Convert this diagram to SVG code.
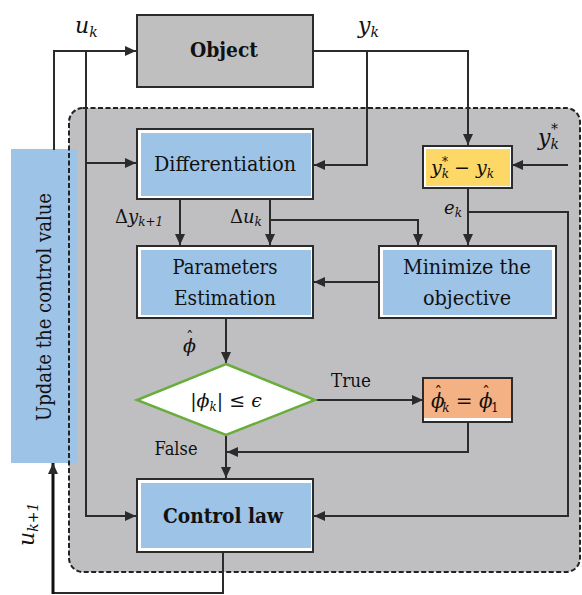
<svg xmlns="http://www.w3.org/2000/svg" width="582" height="595" viewBox="0 0 582 595">
  <style>
    .lbl { font-family: "DejaVu Serif", serif; fill: #111; }
    .math { font-family: "DejaVu Serif", serif; font-style: italic; fill: #111; }
    .up { font-style: normal; }
    .wire { fill: none; stroke: #2b2b2b; stroke-width: 2; }
    .frame { fill: #ffffff; stroke: #2b2b2b; stroke-width: 2; }
    .blue { fill: #9dc3e6; }
  </style>
  <defs>
    <marker id="arr" markerUnits="userSpaceOnUse" markerWidth="11" markerHeight="10" refX="11" refY="5" orient="auto">
      <path d="M0,0 L11,5 L0,10 z" fill="#2b2b2b"/>
    </marker>
  </defs>

  <rect width="582" height="595" fill="#ffffff"/>

  <!-- controller region background -->
  <rect x="69" y="108" width="511" height="464" rx="14" fill="#bfbfc1"/>

  <!-- side bar -->
  <g id="update">
    <rect x="11" y="149" width="66" height="314" class="blue"/>
    <text class="lbl" font-size="20" text-anchor="middle" textLength="228" lengthAdjust="spacingAndGlyphs" transform="translate(51,307) rotate(-90)">Update the control value</text>
  </g>

  <!-- controller region outline -->
  <rect x="69" y="108" width="511" height="464" rx="14" fill="none" stroke="#222" stroke-width="2" stroke-dasharray="5 2.5"/>

  <g id="connectors">
    <path class="wire" d="M54,150 V51 H136" marker-end="url(#arr)"/>
    <path class="wire" d="M86,51 V516 H136" marker-end="url(#arr)"/>
    <path class="wire" d="M86,163 H136" marker-end="url(#arr)"/>
    <path class="wire" d="M314,51 H468 V145" marker-end="url(#arr)"/>
    <path class="wire" d="M367,51 V165 H314" marker-end="url(#arr)"/>
    <path class="wire" d="M568,165 H512" marker-end="url(#arr)"/>
    <path class="wire" d="M468,188 V245" marker-end="url(#arr)"/>
    <path class="wire" d="M468,212 H568 V516 H314" marker-end="url(#arr)"/>
    <path class="wire" d="M180,200 V245" marker-end="url(#arr)"/>
    <path class="wire" d="M270,200 V245" marker-end="url(#arr)"/>
    <path class="wire" d="M270,220 H418 V245" marker-end="url(#arr)"/>
    <path class="wire" d="M378,282 H314" marker-end="url(#arr)"/>
    <path class="wire" d="M226,319 V363" marker-end="url(#arr)"/>
    <path class="wire" d="M315,400 H423" marker-end="url(#arr)"/>
    <path class="wire" d="M468,422 V452 H227" marker-end="url(#arr)"/>
    <path class="wire" d="M226,435 V478" marker-end="url(#arr)"/>
    <path class="wire" d="M223,553 V593 H53"/>
    <path d="M53,594 V463" fill="none" stroke="#111" stroke-width="3" marker-end="url(#arr)"/>
  </g>

  <g id="object">
    <rect x="137" y="15" width="176" height="72" fill="#bfbfbf" stroke="#2b2b2b" stroke-width="2"/>
    <text class="lbl" x="224" y="57" font-size="20" font-weight="bold" text-anchor="middle" textLength="68" lengthAdjust="spacingAndGlyphs">Object</text>
  </g>

  <g id="differentiation">
    <rect x="137" y="129" width="176" height="70" class="frame"/>
    <rect x="141" y="133" width="170" height="63" class="blue"/>
    <text class="lbl" x="225" y="171" font-size="20" text-anchor="middle" textLength="142" lengthAdjust="spacingAndGlyphs">Differentiation</text>
  </g>

  <g id="estimation">
    <rect x="137" y="246" width="176" height="72" class="frame"/>
    <rect x="141" y="250" width="170" height="65" class="blue"/>
    <text class="lbl" x="225" y="274" font-size="20" text-anchor="middle" textLength="105" lengthAdjust="spacingAndGlyphs">Parameters</text>
    <text class="lbl" x="225" y="305" font-size="20" text-anchor="middle" textLength="102" lengthAdjust="spacingAndGlyphs">Estimation</text>
  </g>

  <g id="minimize">
    <rect x="379" y="246" width="177" height="72" class="frame"/>
    <rect x="383" y="250" width="169" height="65" class="blue"/>
    <text class="lbl" x="467" y="274" font-size="20" text-anchor="middle" textLength="128" lengthAdjust="spacingAndGlyphs">Minimize the</text>
    <text class="lbl" x="467" y="305" font-size="20" text-anchor="middle" textLength="88" lengthAdjust="spacingAndGlyphs">objective</text>
  </g>

  <g id="error">
    <rect x="423" y="146" width="89" height="42" fill="#ffffff" stroke="#2b2b2b" stroke-width="2"/>
    <rect x="426" y="149" width="84" height="37" fill="#fdd867"/>
    <text class="math" x="431" y="174" font-size="19">y<tspan font-size="12" dy="4">k</tspan><tspan font-size="12" dx="-7" dy="-12">*</tspan><tspan class="up" dy="8"> − </tspan>y<tspan font-size="12" dy="4">k</tspan></text>
  </g>

  <g id="check">
    <path d="M226,364 L315,400 L226,435 L137,400 Z" fill="#ffffff" stroke="#6aad3d" stroke-width="2.5"/>
    <text class="math" x="226" y="407" font-size="19" text-anchor="middle"><tspan class="up">|</tspan>ϕ<tspan font-size="12" dy="4">k</tspan><tspan class="up" dy="-4">| ≤ </tspan>ϵ</text>
  </g>

  <g id="reset">
    <rect x="423" y="378" width="89" height="44" fill="#ffffff" stroke="#2b2b2b" stroke-width="2"/>
    <rect x="424" y="379" width="87" height="39" fill="#f4b183"/>
    <text class="math" x="431" y="408" font-size="20">ϕ<tspan class="up" font-size="16" dx="-10.5" dy="-10">ˆ</tspan><tspan font-size="12" dx="0" dy="14">k</tspan><tspan class="up" dy="-4"> = </tspan>ϕ<tspan class="up" font-size="16" dx="-10.5" dy="-10">ˆ</tspan><tspan class="up" font-size="12" dx="1" dy="14">1</tspan></text>
  </g>

  <g id="control-law">
    <rect x="137" y="479" width="176" height="73" class="frame"/>
    <rect x="141" y="483" width="170" height="65" class="blue"/>
    <text class="lbl" x="223" y="523" font-size="20" font-weight="bold" text-anchor="middle" textLength="120" lengthAdjust="spacingAndGlyphs">Control law</text>
  </g>

  <g id="labels">
    <text class="math" x="75" y="33" font-size="22">u<tspan font-size="14" dy="4">k</tspan></text>
    <text class="math" x="358" y="33" font-size="22">y<tspan font-size="14" dy="4">k</tspan></text>
    <text class="math" x="538" y="145" font-size="22">y<tspan font-size="14" dy="4">k</tspan><tspan font-size="14" dx="-8" dy="-15">*</tspan></text>
    <text class="math" x="115" y="223" font-size="18"><tspan class="up">Δ</tspan>y<tspan font-size="12" dy="3">k+1</tspan></text>
    <text class="math" x="230" y="223" font-size="18"><tspan class="up">Δ</tspan>u<tspan font-size="12" dy="3">k</tspan></text>
    <text class="math" x="444" y="214" font-size="18">e<tspan font-size="12" dy="3">k</tspan></text>
    <text class="math" x="183" y="352" font-size="19">ϕ<tspan class="up" font-size="15" dx="-10" dy="-10">ˆ</tspan></text>
    <text class="lbl" x="351" y="387" font-size="18" text-anchor="middle" textLength="40" lengthAdjust="spacingAndGlyphs">True</text>
    <text class="lbl" x="176" y="455" font-size="18" text-anchor="middle" textLength="43" lengthAdjust="spacingAndGlyphs">False</text>
    <text class="math" font-size="22" transform="translate(34,546) rotate(-90)">u<tspan font-size="14" dy="4">k+1</tspan></text>
  </g>
</svg>
